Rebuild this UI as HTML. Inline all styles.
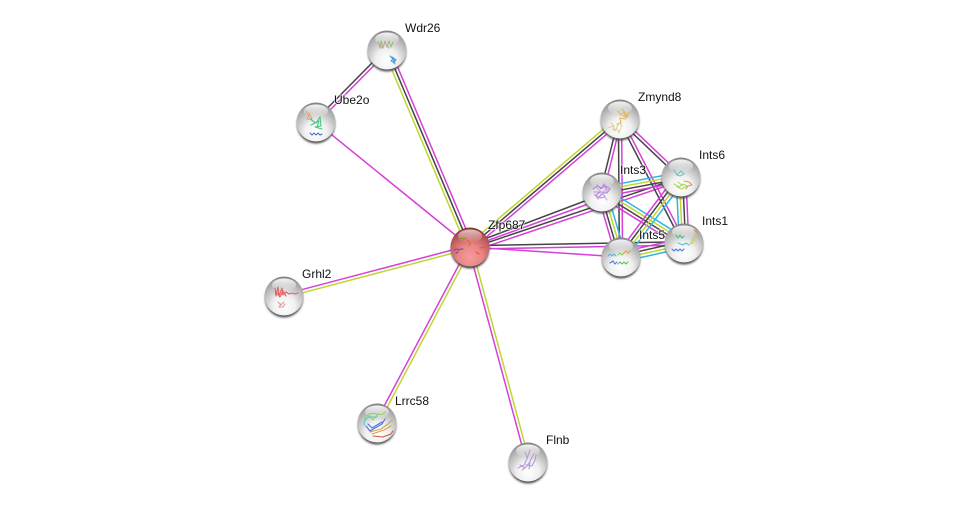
<!DOCTYPE html>
<html>
<head>
<meta charset="utf-8">
<style>
html,body{margin:0;padding:0;background:#fff;width:975px;height:507px;overflow:hidden}
svg{display:block}
text{font-family:"Liberation Sans",sans-serif;font-size:12px;fill:#111;paint-order:stroke;stroke:#fff;stroke-opacity:.55;stroke-width:2px}
.m{stroke:#d63fd9}.k{stroke:#444}.y{stroke:#bfd62f}.c{stroke:#2fb6e2}
line{stroke-width:1.5;fill:none}
.p{filter:url(#s)}
.p path{fill:none;stroke-width:1.1;stroke-linecap:round;stroke-linejoin:round}
</style>
</head>
<body>
<svg width="975" height="507" viewBox="0 0 975 507" xmlns="http://www.w3.org/2000/svg">
<defs>
<radialGradient id="g" cx="50%" cy="76%" r="76%">
<stop offset="0" stop-color="#ffffff"/><stop offset=".38" stop-color="#f0f0f0"/><stop offset=".66" stop-color="#c4c4c4"/><stop offset=".9" stop-color="#a0a0a0"/><stop offset="1" stop-color="#7a7a7a"/>
</radialGradient>
<radialGradient id="r" cx="50%" cy="76%" r="76%">
<stop offset="0" stop-color="#f79a9a"/><stop offset=".4" stop-color="#ea8686"/><stop offset=".68" stop-color="#c86464"/><stop offset=".9" stop-color="#a24848"/><stop offset="1" stop-color="#762a2a"/>
</radialGradient>
<linearGradient id="h" x1="0" y1="0" x2="0" y2="1">
<stop offset="0" stop-color="#fff" stop-opacity=".9"/><stop offset="1" stop-color="#fff" stop-opacity="0"/>
</linearGradient>
<filter id="b" x="-30%" y="-30%" width="160%" height="160%"><feGaussianBlur stdDeviation="1"/></filter>
<filter id="s" x="-20%" y="-20%" width="140%" height="140%"><feGaussianBlur stdDeviation=".3"/></filter>
<g id="n">
<circle cx="0" cy="2.5" r="19" fill="#484848" filter="url(#b)"/>
<circle r="19.5" fill="url(#g)"/>
<ellipse cx="0" cy="-11" rx="12" ry="6.5" fill="url(#h)"/>
</g>
<g id="nr">
<circle cx="0" cy="2.5" r="19" fill="#3c3c3c" filter="url(#b)"/>
<circle r="19.5" fill="url(#r)"/>
<ellipse cx="0" cy="-11" rx="12" ry="6.5" fill="url(#h)" opacity=".75"/>
</g>
</defs>

<!-- edges -->
<g transform="translate(387,50) rotate(67.15)"><line class="y" x2="214" y1="3.2" y2="3.2"/><line class="k" x2="214"/><line class="m" x2="214" y1="-3.2" y2="-3.2"/></g>
<g transform="translate(316,122) rotate(-45.4)"><line class="k" x2="101" y1="-1.6" y2="-1.6"/><line class="m" x2="101" y1="1.6" y2="1.6"/></g>
<line class="m" x1="316" y1="122" x2="470" y2="247"/>
<g transform="translate(284,296) rotate(-14.76)"><line class="m" x2="192" y1="-1.6" y2="-1.6"/><line class="y" x2="192" y1="1.6" y2="1.6"/></g>
<g transform="translate(377,423) rotate(-62.1)"><line class="m" x2="199" y1="-1.6" y2="-1.6"/><line class="y" x2="199" y1="1.6" y2="1.6"/></g>
<g transform="translate(470,247) rotate(74.9)"><line class="m" x2="223" y1="1.6" y2="1.6"/><line class="y" x2="223" y1="-1.6" y2="-1.6"/></g>
<g transform="translate(470,247) rotate(-40.5)"><line class="y" x2="197" y1="-3" y2="-3"/><line class="k" x2="197"/><line class="m" x2="197" y1="3" y2="3"/></g>
<line class="k" x1="470" y1="244.5" x2="602" y2="194.5"/>
<line class="m" x1="470" y1="247" x2="602" y2="199"/>
<line class="k" x1="470" y1="248.5" x2="681" y2="177.5"/>
<line class="m" x1="470" y1="252" x2="681" y2="181"/>
<g transform="translate(470,247) rotate(-1.07)"><line class="k" x2="214" y1="-1.3" y2="-1.3"/><line class="m" x2="214" y1="2.1" y2="2.1"/></g>
<line class="m" x1="470" y1="247" x2="621" y2="257"/>

<g transform="translate(620,119) rotate(103.85)"><line class="k" x2="75" y1="1.6" y2="1.6"/><line class="m" x2="75" y1="-1.6" y2="-1.6"/></g>
<g transform="translate(620,119) rotate(89.6)"><line class="k" x2="138" y1="1.6" y2="1.6"/><line class="m" x2="138" y1="-1.6" y2="-1.6"/></g>
<g transform="translate(620,119) rotate(43.6)"><line class="m" x2="84" y1="-1.6" y2="-1.6"/><line class="k" x2="84" y1="1.6" y2="1.6"/></g>
<g transform="translate(620,119) rotate(62.7)"><line class="m" x2="140" y1="-1.6" y2="-1.6"/><line class="k" x2="140" y1="1.6" y2="1.6"/></g>
<g transform="translate(602,192) rotate(-10.75)"><line class="c" x2="80" y1="-4.8" y2="-4.8"/><line class="y" x2="80" y1="-1.6" y2="-1.6"/><line class="k" x2="80" y1="1.6" y2="1.6"/><line class="m" x2="80" y1="4.8" y2="4.8"/></g>
<g transform="translate(602,192) rotate(73.7)"><line class="m" x2="68" y1="4.8" y2="4.8"/><line class="k" x2="68" y1="1.6" y2="1.6"/><line class="y" x2="68" y1="-1.6" y2="-1.6"/><line class="c" x2="68" y1="-4.8" y2="-4.8"/></g>
<g transform="translate(602,192) rotate(31.9)"><line class="c" x2="97" y1="-4.8" y2="-4.8"/><line class="y" x2="97" y1="-1.6" y2="-1.6"/><line class="k" x2="97" y1="1.6" y2="1.6"/><line class="m" x2="97" y1="4.8" y2="4.8"/></g>
<g transform="translate(681,177) rotate(126.9)"><line class="m" x2="100" y1="4.8" y2="4.8"/><line class="k" x2="100" y1="1.6" y2="1.6"/><line class="y" x2="100" y1="-1.6" y2="-1.6"/><line class="c" x2="100" y1="-4.8" y2="-4.8"/></g>
<g transform="translate(681,177) rotate(87.4)"><line class="c" x2="66" y1="4.8" y2="4.8"/><line class="y" x2="66" y1="1.6" y2="1.6"/><line class="k" x2="66" y1="-1.6" y2="-1.6"/><line class="m" x2="66" y1="-4.8" y2="-4.8"/></g>
<g transform="translate(621,257) rotate(-12.5)"><line class="m" x2="65" y1="-4.8" y2="-4.8"/><line class="k" x2="65" y1="-1.6" y2="-1.6"/><line class="y" x2="65" y1="1.6" y2="1.6"/><line class="c" x2="65" y1="4.8" y2="4.8"/></g>

<!-- nodes -->
<use href="#n" x="387" y="50"/>
<g class="p" transform="translate(387,50)">
<path d="M-9,-8l2,6 1,-7 2,7 2,-7 2,6 2,-6 2,6 2,-5" stroke="#8fbf7a" stroke-width="1.2"/>
<path d="M-8,-6l3,4 3,-5 4,5" stroke="#e0a0a0"/>
<path d="M3,6l3,3 -2,2 4,1 -3,-5 4,3 -3,2 2,2" stroke="#3f9fe0" stroke-width="1.3"/>
</g>
<use href="#n" x="316" y="122"/>
<g class="p" transform="translate(316,122)">
<path d="M-10,-11l3,5 -2,3 5,0 -3,-6" stroke="#e6a070"/>
<path d="M-6,-3l6,4 4,-6 1,9 -6,1 7,2M-5,3l8,-4 -2,6" stroke="#45c57f" stroke-width="1.3"/>
<path d="M-6,11l2,2 2,-2 2,2 2,-2 2,2 2,-1" stroke="#4a6fd0" stroke-width="1.3"/>
</g>
<use href="#n" x="620" y="119"/>
<g class="p" transform="translate(620,119)">
<path d="M-2,-8l3,4 3,-3 3,5 2,-5 -4,7 -5,-1 1,5 -4,1M2,-10l4,5 -3,2 5,1" stroke="#d8b860" stroke-width="1.5"/>
<path d="M-9,4l3,3 -1,4 4,-1 2,4 2,-6M-12,9l5,-2 2,5 4,-8 3,3" stroke="#e2cf9a" stroke-width="1.3"/>
</g>
<use href="#n" x="681" y="177"/>
<g class="p" transform="translate(681,177)">
<path d="M-7,-7l3,5 4,-4 3,3 -4,2 -3,-1" stroke="#63c8c0"/>
<path d="M-7,7l5,3 4,-3 4,2 -5,3 -5,-2M-3,5l5,4" stroke="#a8d860" stroke-width="1.3"/>
<path d="M3,4l5,1 3,3 -4,1 -2,3" stroke="#e09a50"/>
</g>
<use href="#n" x="602" y="192"/>
<g class="p" transform="translate(602,192)">
<path d="M-9,-3l4,-3 5,2 4,-2 4,3 -3,4 -5,-1 3,5 -5,1 -4,-3 4,-3 -6,0M-5,-7l4,4 3,-5 3,6" stroke="#b48ad8" stroke-width="1.5"/>
<path d="M-6,-5l6,6 5,-5M-4,6l9,-7M-8,2l4,5 4,-7 5,8" stroke="#c6a4e2" stroke-width="1.3"/>
</g>
<use href="#n" x="684" y="243"/>
<g class="p" transform="translate(684,243)">
<path d="M-8,-8l2,3 2,-3 2,3 2,-2" stroke="#3cc07a" stroke-width="1.3"/>
<path d="M6,1l3,-5 3,-4 -2,-2M8,1l3,-4" stroke="#c4cf60" stroke-width="1.4"/>
<path d="M10,-13l2,2" stroke="#e08a60" stroke-width="1.3"/>
<path d="M-12,6l2,2 2,-2 2,2 2,-2 2,2 2,-2" stroke="#4d79d8" stroke-width="1.3"/>
<path d="M-6,0l5,2 3,-2 3,2" stroke="#50c6d0" stroke-width="1.3"/>
</g>
<use href="#n" x="621" y="257"/>
<g class="p" transform="translate(621,257)">
<path d="M-13,-1l2,-2 2,2 2,-2 2,2" stroke="#4fb8d8" stroke-width="1.5"/>
<path d="M-3,-2l2,-2 2,2 2,-2" stroke="#8ccf50" stroke-width="1.5"/>
<path d="M3,-4l2,-2 2,2 2,-2" stroke="#e8a040" stroke-width="1.5"/>
<path d="M-11,6l3,-2 2,3 2,-2" stroke="#4d79d8" stroke-width="1.5"/>
<path d="M-3,7l2,-2 2,2 2,-2 2,2 2,-2" stroke="#5cc06a" stroke-width="1.5"/>
</g>
<use href="#nr" x="470" y="247"/>
<g class="p" transform="translate(470,247)">
<path d="M-11,-7l2,-2 3,1 2,-1" stroke="#8f8a3a" stroke-width="1.5"/>
<path d="M-3,-7l2,1 1,3 -1,2" stroke="#c77a20" stroke-width="1.5"/>
<path d="M-16,3l3,-1 2,1 2,-1 2,0M-14,6l2,-1" stroke="#7a3fb0" stroke-width="1.4"/>
<path d="M6,5l3,2M10,1l4,-1 1,1" stroke="#e2553a" stroke-width="1.4"/>
</g>
<use href="#n" x="284" y="296"/>
<g class="p" transform="translate(284,296)">
<path d="M-9,-8l1,8 2,-9 1,9 3,-8 1,7 3,-3 3,2 3,-1 3,1 3,-1M-8,-4l4,5 3,-6 3,5" stroke="#e66060" stroke-width="1.2"/>
<path d="M-6,6l3,3 3,-3M-3,8l-2,3 4,0 2,-3" stroke="#d89a9a"/>
</g>
<use href="#n" x="377" y="423"/>
<g class="p" transform="translate(377,423)">
<path d="M-12,-5c3,-5 8,-5 12,-4s6,1 8,-2M-9,-8l5,5 5,-6" stroke="#8fd66a" stroke-width=".8"/>
<path d="M-13,2c0,-6 3,-7 5,-8l8,0" stroke="#55c8c8" stroke-width="1.8"/>
<path d="M-11,3l4,5 12,-7 3,-5M-9,1l4,4 10,-6" stroke="#4f6fd8" stroke-width="1.6"/>
<path d="M-7,9l11,-3 7,-5 4,-4M-5,11l12,-4 7,-4" stroke="#d8a050" stroke-width="1.6"/>
<path d="M-4,13l10,1 8,-3 2,-3" stroke="#cf5a40" stroke-width="1.6"/>
</g>
<use href="#n" x="528" y="462"/>
<g class="p" transform="translate(528,462)">
<path d="M-10,6l6,-3 3,-6 2,-6M-6,8l6,-5 3,-6 3,-5M-2,3l6,1 3,-6 1,-5M-3,-10l2,6 3,-8M-8,3l5,3 5,-6 -1,7" stroke="#b79ad8" stroke-width="1.2"/>
</g>

<!-- labels -->
<text x="405" y="32">Wdr26</text>
<text x="334" y="104">Ube2o</text>
<text x="638" y="101">Zmynd8</text>
<text x="699" y="159">Ints6</text>
<text x="620" y="174">Ints3</text>
<text x="702" y="225">Ints1</text>
<text x="639" y="239">Ints5</text>
<text x="488" y="229">Zfp687</text>
<text x="302" y="278">Grhl2</text>
<text x="395" y="405">Lrrc58</text>
<text x="546" y="444">Flnb</text>
</svg>
</body>
</html>
